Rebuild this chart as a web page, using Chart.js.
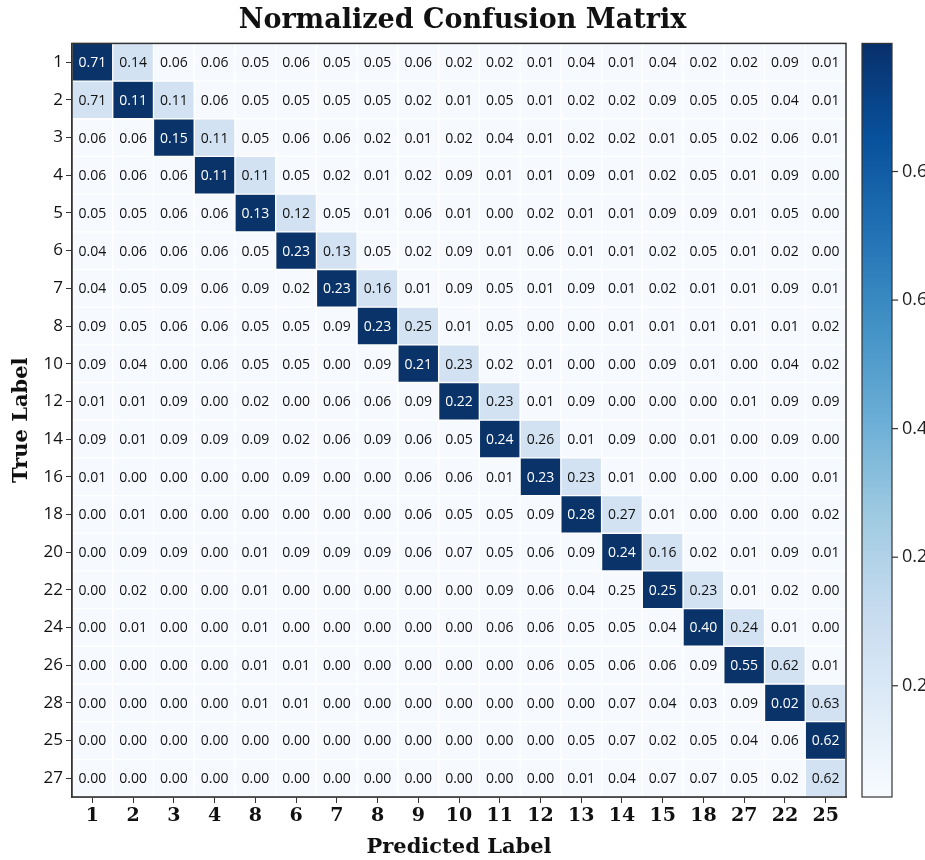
<!DOCTYPE html>
<html>
<head>
<meta charset="utf-8">
<script src="https://cdn.jsdelivr.net/npm/chart.js@4.4.0/dist/chart.umd.min.js"></script>
<style>
  body { margin: 0; background: #fff; }
  #wrap { width: 925px; height: 860px; }
</style>
</head>
<body>
<div id="wrap"><canvas id="cm" width="925" height="860"></canvas></div>
<script>
const trueLabels = ['1', '2', '3', '4', '5', '6', '7', '8', '10', '12', '14', '16', '18', '20', '22', '24', '26', '28', '25', '27'];
const predLabels = ['1', '2', '3', '4', '8', '6', '7', '8', '9', '10', '11', '12', '13', '14', '15', '18', '27', '22', '25'];

// one row per true label, one value per predicted label
const matrix = [
    [0.71, 0.14, 0.06, 0.06, 0.05, 0.06, 0.05, 0.05, 0.06, 0.02, 0.02, 0.01, 0.04, 0.01, 0.04, 0.02, 0.02, 0.09, 0.01],
    [0.71, 0.11, 0.11, 0.06, 0.05, 0.05, 0.05, 0.05, 0.02, 0.01, 0.05, 0.01, 0.02, 0.02, 0.09, 0.05, 0.05, 0.04, 0.01],
    [0.06, 0.06, 0.15, 0.11, 0.05, 0.06, 0.06, 0.02, 0.01, 0.02, 0.04, 0.01, 0.02, 0.02, 0.01, 0.05, 0.02, 0.06, 0.01],
    [0.06, 0.06, 0.06, 0.11, 0.11, 0.05, 0.02, 0.01, 0.02, 0.09, 0.01, 0.01, 0.09, 0.01, 0.02, 0.05, 0.01, 0.09, 0.00],
    [0.05, 0.05, 0.06, 0.06, 0.13, 0.12, 0.05, 0.01, 0.06, 0.01, 0.00, 0.02, 0.01, 0.01, 0.09, 0.09, 0.01, 0.05, 0.00],
    [0.04, 0.06, 0.06, 0.06, 0.05, 0.23, 0.13, 0.05, 0.02, 0.09, 0.01, 0.06, 0.01, 0.01, 0.02, 0.05, 0.01, 0.02, 0.00],
    [0.04, 0.05, 0.09, 0.06, 0.09, 0.02, 0.23, 0.16, 0.01, 0.09, 0.05, 0.01, 0.09, 0.01, 0.02, 0.01, 0.01, 0.09, 0.01],
    [0.09, 0.05, 0.06, 0.06, 0.05, 0.05, 0.09, 0.23, 0.25, 0.01, 0.05, 0.00, 0.00, 0.01, 0.01, 0.01, 0.01, 0.01, 0.02],
    [0.09, 0.04, 0.00, 0.06, 0.05, 0.05, 0.00, 0.09, 0.21, 0.23, 0.02, 0.01, 0.00, 0.00, 0.09, 0.01, 0.00, 0.04, 0.02],
    [0.01, 0.01, 0.09, 0.00, 0.02, 0.00, 0.06, 0.06, 0.09, 0.22, 0.23, 0.01, 0.09, 0.00, 0.00, 0.00, 0.01, 0.09, 0.09],
    [0.09, 0.01, 0.09, 0.09, 0.09, 0.02, 0.06, 0.09, 0.06, 0.05, 0.24, 0.26, 0.01, 0.09, 0.00, 0.01, 0.00, 0.09, 0.00],
    [0.01, 0.00, 0.00, 0.00, 0.00, 0.09, 0.00, 0.00, 0.06, 0.06, 0.01, 0.23, 0.23, 0.01, 0.00, 0.00, 0.00, 0.00, 0.01],
    [0.00, 0.01, 0.00, 0.00, 0.00, 0.00, 0.00, 0.00, 0.06, 0.05, 0.05, 0.09, 0.28, 0.27, 0.01, 0.00, 0.00, 0.00, 0.02],
    [0.00, 0.09, 0.09, 0.00, 0.01, 0.09, 0.09, 0.09, 0.06, 0.07, 0.05, 0.06, 0.09, 0.24, 0.16, 0.02, 0.01, 0.09, 0.01],
    [0.00, 0.02, 0.00, 0.00, 0.01, 0.00, 0.00, 0.00, 0.00, 0.00, 0.09, 0.06, 0.04, 0.25, 0.25, 0.23, 0.01, 0.02, 0.00],
    [0.00, 0.01, 0.00, 0.00, 0.01, 0.00, 0.00, 0.00, 0.00, 0.00, 0.06, 0.06, 0.05, 0.05, 0.04, 0.40, 0.24, 0.01, 0.00],
    [0.00, 0.00, 0.00, 0.00, 0.01, 0.01, 0.00, 0.00, 0.00, 0.00, 0.00, 0.06, 0.05, 0.06, 0.06, 0.09, 0.55, 0.62, 0.01],
    [0.00, 0.00, 0.00, 0.00, 0.01, 0.01, 0.00, 0.00, 0.00, 0.00, 0.00, 0.00, 0.00, 0.07, 0.04, 0.03, 0.09, 0.02, 0.63],
    [0.00, 0.00, 0.00, 0.00, 0.00, 0.00, 0.00, 0.00, 0.00, 0.00, 0.00, 0.00, 0.05, 0.07, 0.02, 0.05, 0.04, 0.06, 0.62],
    [0.00, 0.00, 0.00, 0.00, 0.00, 0.00, 0.00, 0.00, 0.00, 0.00, 0.00, 0.00, 0.01, 0.04, 0.07, 0.07, 0.05, 0.02, 0.62]
];

const colorbarTicks = ['0.6', '0.6', '0.4', '0.2', '0.2'];

// Blues colormap stops, low to high
const blues = ['#f7fbff', '#deebf7', '#c6dbef', '#9ecae1', '#6baed6', '#4292c6', '#2171b5', '#08519c', '#08306b'];

// in the picture the shading follows the diagonal, not the printed numbers
function cellColor(r, c) {
    if (r === c) return '#0a3469';
    if (c === r + 1 || (r === 1 && c === 0) || (r === 19 && c === 18)) return '#d2e2f2';
    return '#f6f9fd';
}

const datasets = matrix.map(function (row, r) {
    return {
        label: trueLabels[r],
        data: row.map(function () { return [r - 0.5, r + 0.5]; }),
        values: row,
        backgroundColor: row.map(function (v, c) { return cellColor(r, c); }),
        borderColor: 'rgba(255,255,255,0.7)',
        borderWidth: 1,
        borderSkipped: false,
        grouped: false,
        barPercentage: 1,
        categoryPercentage: 1
    };
});

const cellText = {
    id: 'cellText',
    afterDatasetsDraw(chart) {
        const ctx = chart.ctx;
        ctx.save();
        ctx.font = '14px "Open Sans", sans-serif';
        ctx.textAlign = 'center';
        ctx.textBaseline = 'middle';
        chart.data.datasets.forEach(function (ds, r) {
            chart.getDatasetMeta(r).data.forEach(function (bar, c) {
                const p = bar.getCenterPoint();
                ctx.fillStyle = r === c ? '#ffffff' : '#111111';
                ctx.fillText(ds.values[c].toFixed(2), p.x, p.y + 1);
            });
        });
        ctx.restore();
    }
};

const frameAndColorbar = {
    id: 'frameAndColorbar',
    afterDraw(chart) {
        const ctx = chart.ctx;
        const a = chart.chartArea;
        ctx.save();
        ctx.strokeStyle = '#333';
        ctx.lineWidth = 1.5;
        ctx.strokeRect(a.left, a.top, a.right - a.left, a.bottom - a.top);

        // colorbar
        const x0 = 862, w = 30;
        const h = a.bottom - a.top;
        const g = ctx.createLinearGradient(0, a.bottom, 0, a.top);
        blues.forEach(function (col, i) { g.addColorStop(i / (blues.length - 1), col); });
        ctx.fillStyle = g;
        ctx.fillRect(x0, a.top, w, h);
        ctx.lineWidth = 1.2;
        ctx.strokeRect(x0, a.top, w, h);

        ctx.font = '18px "Open Sans", sans-serif';
        ctx.fillStyle = '#222';
        ctx.textAlign = 'left';
        ctx.textBaseline = 'middle';
        colorbarTicks.forEach(function (t, i) {
            const y = a.top + h * (0.17 + i * 0.1706);
            ctx.beginPath();
            ctx.moveTo(x0 + w, y);
            ctx.lineTo(x0 + w + 6, y);
            ctx.stroke();
            ctx.fillText(t, x0 + w + 10, y);
        });
        ctx.restore();
    }
};

document.addEventListener('DOMContentLoaded', function () {
    const ctx = document.getElementById('cm').getContext('2d');
    new Chart(ctx, {
        type: 'bar',
        data: {
            labels: predLabels,
            datasets: datasets
        },
        options: {
            responsive: false,
            animation: false,
            scales: {
                x: {
                    type: 'category',
                    offset: true,
                    afterFit: function (s) { s.height = 63; },
                    grid: { display: true, drawOnChartArea: false, drawTicks: true, tickLength: 6, color: '#333', offset: false },
                    border: { display: true, color: '#333', width: 1.5 },
                    ticks: {
                        color: '#111',
                        padding: 2,
                        font: { family: '"DejaVu Serif", serif', size: 19, weight: 'bold' }
                    },
                    title: {
                        display: true,
                        text: 'Predicted Label',
                        color: '#111',
                        padding: { top: 0, bottom: 0 },
                        font: { family: '"DejaVu Serif", serif', size: 21, weight: 'bold' }
                    }
                },
                y: {
                    type: 'linear',
                    min: -0.5,
                    max: 19.5,
                    reverse: true,
                    afterFit: function (s) { s.width = 72; },
                    afterBuildTicks: function (s) {
                        s.ticks = trueLabels.map(function (l, i) { return { value: i }; });
                    },
                    grid: { display: true, drawOnChartArea: false, drawTicks: true, tickLength: 6, color: '#333' },
                    border: { display: true, color: '#333', width: 1.5 },
                    ticks: {
                        autoSkip: false,
                        color: '#111',
                        padding: 3,
                        font: { family: '"Open Sans", sans-serif', size: 17 },
                        callback: function (v) { return trueLabels[v]; }
                    },
                    title: {
                        display: true,
                        text: 'True Label',
                        color: '#111',
                        padding: { top: 9, bottom: 0 },
                        font: { family: '"DejaVu Serif", serif', size: 21, weight: 'bold' }
                    }
                },
                // empty axis that only reserves the room where the colorbar sits
                cbar: {
                    type: 'linear',
                    position: 'right',
                    afterFit: function (s) { s.width = 79; },
                    grid: { display: false },
                    border: { display: false },
                    ticks: { display: false }
                }
            },
            plugins: {
                title: {
                    display: true,
                    text: 'Normalized Confusion Matrix',
                    color: '#111',
                    padding: { top: 5, bottom: 6 },
                    font: { family: '"DejaVu Serif", serif', size: 27, weight: 'bold' }
                },
                legend: { display: false },
                tooltip: { enabled: false }
            }
        },
        plugins: [cellText, frameAndColorbar]
    });
});
</script>
</body>
</html>
